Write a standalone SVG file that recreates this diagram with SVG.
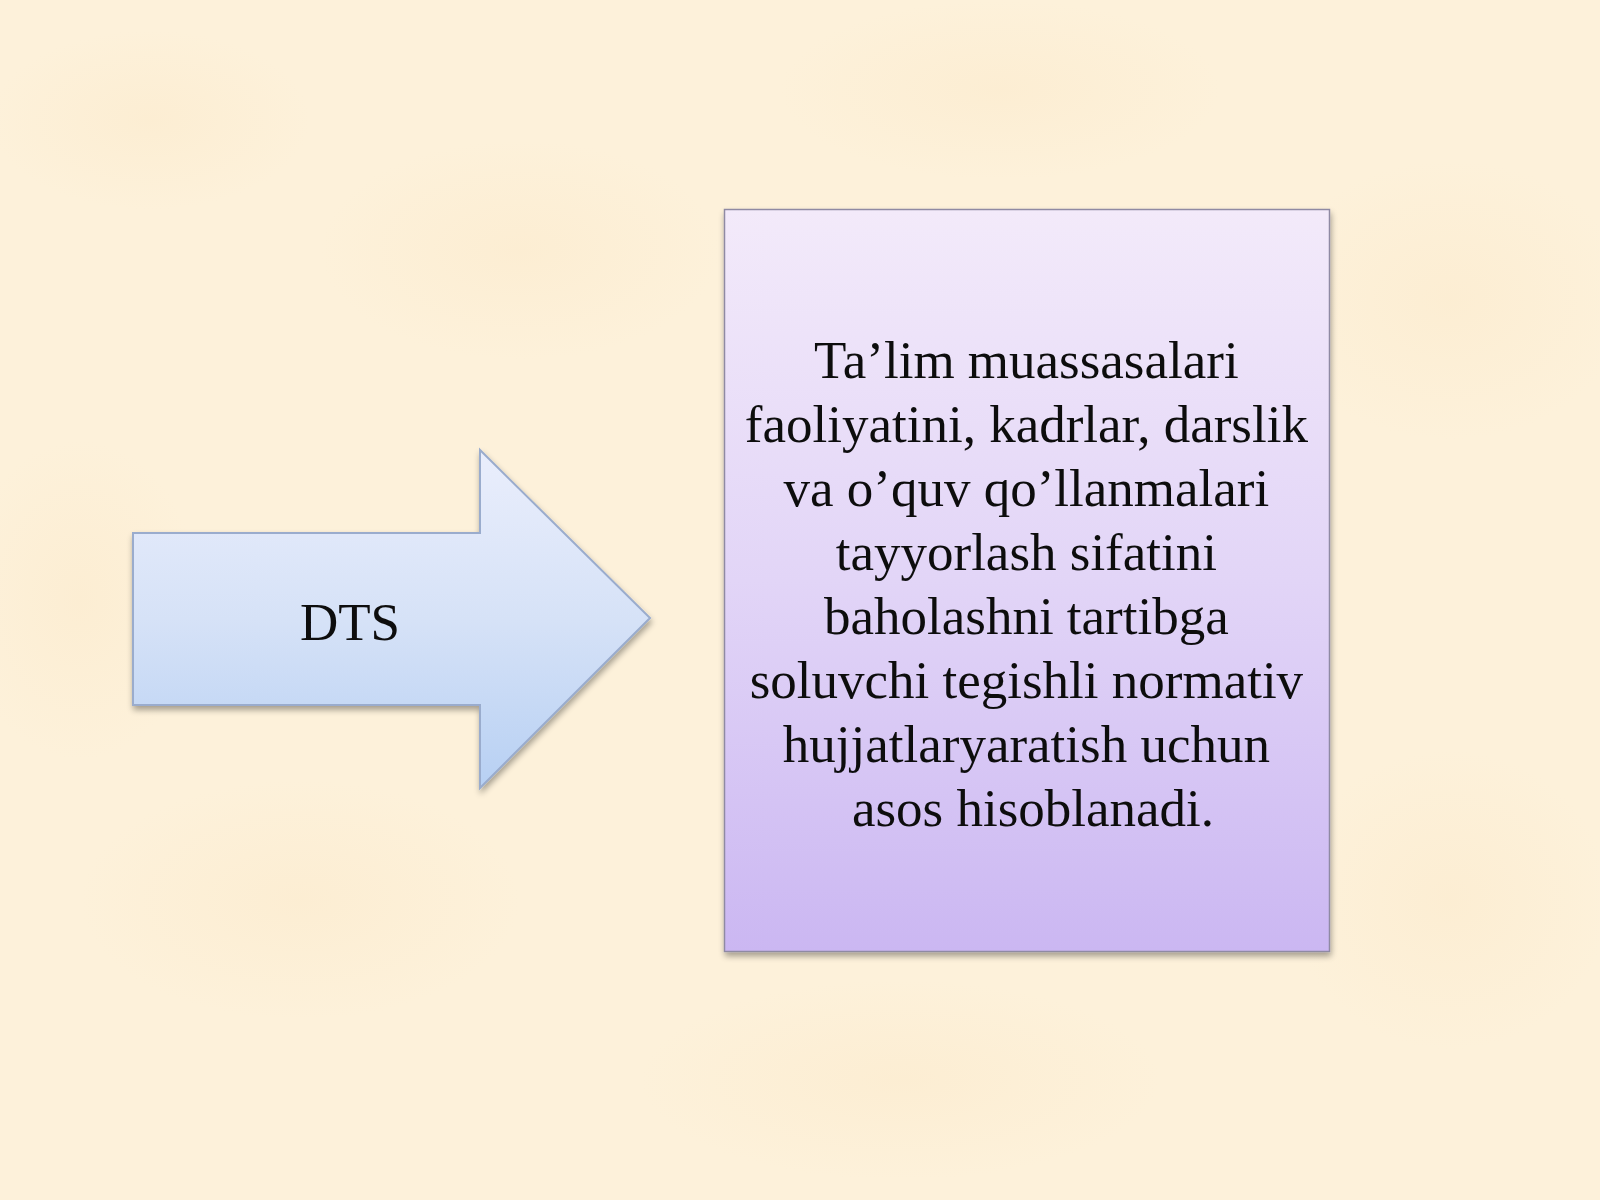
<svg xmlns="http://www.w3.org/2000/svg" width="1600" height="1200" viewBox="0 0 1600 1200">
<defs>
<linearGradient id="arrowFill" x1="0" y1="0" x2="0" y2="1">
<stop offset="0" stop-color="#eaeefc"/>
<stop offset="0.5" stop-color="#d6e2f7"/>
<stop offset="1" stop-color="#b7d0f3"/>
</linearGradient>
<linearGradient id="boxFill" x1="0" y1="0" x2="0" y2="1">
<stop offset="0" stop-color="#f3eafa"/>
<stop offset="0.5" stop-color="#e2d5f7"/>
<stop offset="1" stop-color="#cbb7f2"/>
</linearGradient>
<radialGradient id="blot" cx="0.5" cy="0.5" r="0.5">
<stop offset="0" stop-color="#fbe8c8" stop-opacity="0.4"/>
<stop offset="1" stop-color="#fbe8c8" stop-opacity="0"/>
</radialGradient>
<filter id="shadow" x="-10%" y="-10%" width="120%" height="120%">
<feGaussianBlur in="SourceAlpha" stdDeviation="3"/>
<feOffset dx="1" dy="4" result="b"/>
<feComponentTransfer><feFuncA type="linear" slope="0.35"/></feComponentTransfer>
<feMerge><feMergeNode/><feMergeNode in="SourceGraphic"/></feMerge>
</filter>
</defs>
<style>
.shape-arrow { fill: url(#arrowFill); stroke: #9aaccd; stroke-width: 2; }
.shape-box { fill: url(#boxFill); stroke: #8f8aa3; stroke-width: 1.5; }
.label { font-family: "Liberation Serif", "Times New Roman", serif; font-size: 53px; fill: #111111; text-anchor: middle; }
</style>
<rect x="0" y="0" width="1600" height="1200" fill="#fdf1da"/>
<g id="background-texture">
<ellipse cx="150" cy="120" rx="160" ry="90" fill="url(#blot)"/>
<ellipse cx="520" cy="250" rx="200" ry="110" fill="url(#blot)"/>
<ellipse cx="1000" cy="90" rx="220" ry="90" fill="url(#blot)"/>
<ellipse cx="1450" cy="300" rx="180" ry="140" fill="url(#blot)"/>
<ellipse cx="300" cy="900" rx="220" ry="120" fill="url(#blot)"/>
<ellipse cx="900" cy="1080" rx="260" ry="100" fill="url(#blot)"/>
<ellipse cx="1450" cy="900" rx="160" ry="150" fill="url(#blot)"/>
<ellipse cx="80" cy="600" rx="120" ry="160" fill="url(#blot)"/>
</g>
<g id="connectors"></g>
<g id="node-dts" filter="url(#shadow)">
<polygon class="shape-arrow" points="133,533 480,533 480,450 650,618 480,788 480,705 133,705"/>
<text class="label" x="350" y="640">DTS</text>
</g>
<g id="node-desc" filter="url(#shadow)">
<rect class="shape-box" x="724.5" y="209.5" width="605" height="742"/>
<text class="label" x="1033" y="378">
<tspan x="1033" y="378">Ta’lim muassasalari</tspan>
<tspan x="1033" y="442">faoliyatini, kadrlar, darslik</tspan>
<tspan x="1033" y="506">va o’quv qo’llanmalari</tspan>
<tspan x="1033" y="570">tayyorlash sifatini</tspan>
<tspan x="1033" y="634">baholashni tartibga</tspan>
<tspan x="1033" y="698">soluvchi tegishli normativ</tspan>
<tspan x="1033" y="762">hujjatlaryaratish uchun</tspan>
<tspan x="1033" y="826">asos hisoblanadi.</tspan>
</text>
</g>
</svg>
